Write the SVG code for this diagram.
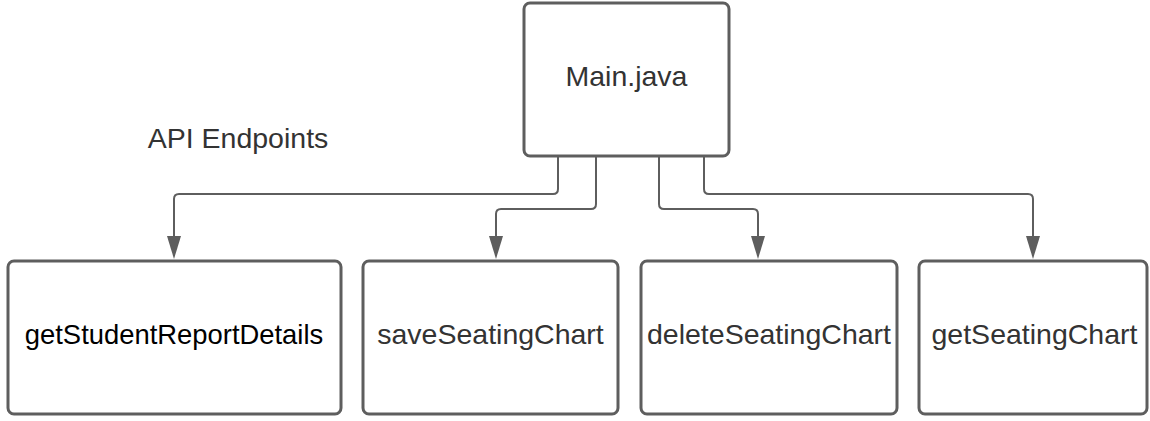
<svg xmlns="http://www.w3.org/2000/svg" width="1150" height="421" viewBox="0 0 1150 421">
<style>
.box{fill:#fff;stroke:#5e5e5e;stroke-width:3}
.lbl{font-family:"Liberation Sans",Arial,sans-serif;font-size:28.5px;fill:#333;text-anchor:middle}
.conn{fill:none;stroke:#5e5e5e;stroke-width:2}
.head{fill:#5e5e5e}
</style>
<rect width="1150" height="421" fill="#fff"/>
<g id="connectors">
<path class="conn" d="M558 157 V189 Q558 194 553 194 H179 Q174 194 174 199 V240"/>
<path class="conn" d="M596 157 V204 Q596 209 591 209 H501 Q496 209 496 214 V240"/>
<path class="conn" d="M659 157 V204 Q659 209 664 209 H753 Q758 209 758 214 V240"/>
<path class="conn" d="M704 157 V189 Q704 194 709 194 H1028 Q1033 194 1033 199 V240"/>
<polygon class="head" points="167,236 181,236 174,259"/>
<polygon class="head" points="489,236 503,236 496,259"/>
<polygon class="head" points="751,236 765,236 758,259"/>
<polygon class="head" points="1026,236 1040,236 1033,259"/>
</g>
<g id="main">
<rect class="box" x="524" y="3" width="205" height="153" rx="6"/>
<text class="lbl" x="626.5" y="86">Main.java</text>
</g>
<g id="title">
<text class="lbl" x="238" y="148">API Endpoints</text>
</g>
<g id="getStudentReportDetails">
<rect class="box" x="8" y="261" width="333" height="153" rx="6"/>
<text class="lbl" x="174" y="344" style="fill:#000;font-size:27.4px">getStudentReportDetails</text>
</g>
<g id="saveSeatingChart">
<rect class="box" x="363" y="261" width="255" height="153" rx="6"/>
<text class="lbl" x="490.5" y="344">saveSeatingChart</text>
</g>
<g id="deleteSeatingChart">
<rect class="box" x="641" y="261" width="256" height="153" rx="6"/>
<text class="lbl" x="769" y="344">deleteSeatingChart</text>
</g>
<g id="getSeatingChart">
<rect class="box" x="919" y="261" width="228" height="153" rx="6"/>
<text class="lbl" x="1034.5" y="344">getSeatingChart</text>
</g>
</svg>
